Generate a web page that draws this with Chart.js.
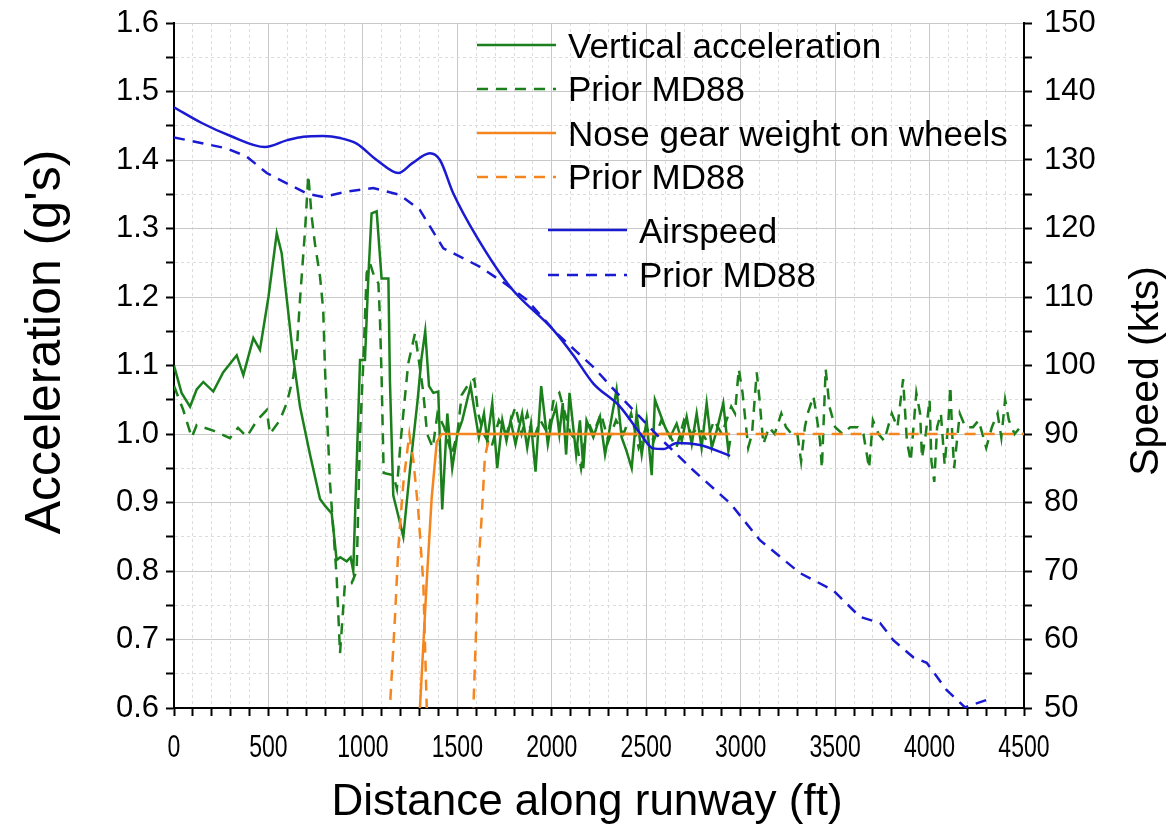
<!DOCTYPE html>
<html>
<head>
<title>Vertical acceleration and airspeed along runway</title>
<script src="https://cdn.jsdelivr.net/npm/chart.js@4.4.0/dist/chart.umd.min.js"></script>
<style>
  body { margin: 0; background: #fff; }
</style>
</head>
<body>
<canvas id="chart" width="1170" height="828"></canvas>
<script>
// values (distance in ft)
const accelDist = [0, 40, 85, 120, 155, 208, 260, 332, 367, 420, 455, 500, 544, 570, 600, 632, 667, 720, 773, 800, 835, 861, 880, 914, 935, 949, 970, 985, 1011, 1029, 1046, 1073, 1099, 1135, 1143, 1161, 1188, 1214, 1250, 1290, 1310, 1330, 1350, 1373, 1399, 1420, 1447, 1473, 1500, 1526, 1570, 1614, 1641, 1658, 1685, 1711, 1738, 1760, 1782, 1808, 1843, 1870, 1890, 1914, 1944, 1979, 2000, 2023, 2040, 2058, 2076, 2094, 2129, 2149, 2167, 2184, 2220, 2255, 2282, 2308, 2343, 2370, 2396, 2423, 2449, 2476, 2502, 2529, 2546, 2573, 2600, 2626, 2661, 2688, 2714, 2741, 2767, 2793, 2820, 2847, 2873, 2908, 2935, 2944];
const accelVal = [1.10, 1.06, 1.04, 1.065, 1.076, 1.062, 1.09, 1.115, 1.086, 1.14, 1.123, 1.20, 1.293, 1.264, 1.19, 1.11, 1.04, 0.97, 0.905, 0.895, 0.884, 0.816, 0.82, 0.814, 0.82, 0.80, 0.98, 1.108, 1.108, 1.23, 1.322, 1.325, 1.227, 1.227, 1.079, 0.91, 0.88, 0.85, 0.95, 1.05, 1.11, 1.15, 1.07, 1.06, 1.062, 0.89, 1.03, 0.95, 1.0, 1.02, 1.07, 0.995, 1.03, 0.99, 1.045, 0.95, 1.02, 0.99, 1.02, 0.985, 1.03, 0.98, 1.015, 0.945, 1.07, 0.985, 1.02, 1.04, 1.0, 1.045, 0.97, 1.06, 0.97, 1.02, 0.95, 1.02, 0.995, 1.025, 0.97, 1.01, 1.065, 0.995, 0.975, 0.95, 1.03, 0.97, 1.02, 0.94, 1.05, 1.03, 1.01, 0.995, 1.015, 0.99, 1.025, 0.985, 1.03, 0.98, 1.045, 0.98, 1.005, 1.045, 0.975, 0.99];

const priorAccelDist = [0, 49, 94, 120, 208, 296, 339, 385, 440, 491, 508, 560, 597, 632, 650, 667, 694, 711, 729, 746, 773, 790, 799, 826, 861, 879, 905, 940, 967, 985, 1002, 1020, 1038, 1060, 1082, 1090, 1099, 1110, 1161, 1180, 1200, 1240, 1276, 1300, 1320, 1340, 1370, 1395, 1430, 1470, 1500, 1523, 1567, 1590, 1610, 1640, 1680, 1720, 1760, 1808, 1840, 1870, 1900, 1940, 1980, 2010, 2040, 2070, 2100, 2130, 2155, 2190, 2220, 2260, 2300, 2340, 2380, 2420, 2460, 2500, 2540, 2580, 2620, 2660, 2700, 2740, 2780, 2820, 2860, 2900, 2950, 2970, 2990, 3010, 3040, 3060, 3085, 3100, 3120, 3150, 3180, 3215, 3240, 3270, 3300, 3320, 3340, 3355, 3385, 3400, 3420, 3430, 3450, 3470, 3500, 3540, 3580, 3620, 3650, 3680, 3700, 3730, 3760, 3800, 3830, 3860, 3880, 3900, 3930, 3950, 3960, 3980, 4000, 4010, 4025, 4040, 4060, 4080, 4100, 4110, 4120, 4130, 4160, 4190, 4230, 4260, 4300, 4330, 4360, 4380, 4400, 4420, 4450, 4480, 4500];
const priorAccelVal = [1.07, 1.035, 0.995, 1.013, 1.005, 0.994, 1.009, 0.996, 1.02, 1.035, 1.0, 1.02, 1.045, 1.084, 1.123, 1.196, 1.298, 1.378, 1.317, 1.278, 1.23, 1.181, 1.098, 0.928, 0.792, 0.68, 0.782, 0.782, 0.80, 1.0, 1.103, 1.235, 1.249, 1.23, 1.22, 1.171, 1.084, 0.943, 0.94, 0.92, 0.99, 1.103, 1.147, 1.10, 1.06, 1.0, 0.98, 1.03, 1.01, 0.97, 1.0, 1.057, 1.076, 1.08, 1.03, 1.0, 0.98, 1.02, 1.0, 1.04, 1.0, 1.03, 0.99, 1.02, 1.0, 1.05, 1.06, 1.03, 1.0, 0.99, 0.95, 1.02, 1.0, 1.03, 0.99, 1.02, 1.0, 1.03, 0.98, 1.01, 0.99, 1.02, 1.0, 0.98, 1.02, 1.0, 1.01, 0.99, 1.02, 1.0, 1.04, 1.03, 1.095, 1.06, 0.98, 1.0, 1.09, 1.05, 0.985, 1.01, 1.0, 1.03, 1.01, 1.0, 1.0, 0.96, 1.01, 1.03, 1.055, 1.03, 0.99, 0.95, 1.095, 1.04, 1.01, 1.0, 1.01, 1.01, 1.0, 0.95, 1.02, 1.0, 0.99, 1.03, 1.01, 1.08, 0.99, 0.96, 1.06, 1.03, 0.965, 1.0, 1.05, 0.96, 0.93, 1.01, 1.03, 0.955, 1.02, 1.07, 1.0, 0.95, 1.03, 1.01, 1.01, 1.02, 0.98, 1.01, 1.03, 0.995, 1.05, 1.02, 1.0, 1.01, 1.0];

const gearDist = [0, 1280, 1302, 1338, 1364, 1391, 1417, 2944];
const gearVal = [0, 0, 0.6, 0.785, 0.906, 0.988, 1.0, 1.0];

const priorGearDist = [0, 1100, 1143, 1170, 1188, 1214, 1246, 1267, 1293, 1320, 1338, 1380, 1560, 1585, 1611, 1629, 1646, 1673, 4500];
const priorGearVal = [0, 0, 0.6, 0.733, 0.835, 0.928, 1.0, 0.962, 0.889, 0.782, 0.6, 0, 0, 0.6, 0.806, 0.879, 0.967, 1.0, 1.0];

// airspeed in kts
const speedDist = [0, 147, 300, 482, 600, 685, 790, 880, 967, 1073, 1188, 1260, 1355, 1408, 1479, 1602, 1779, 2008, 2114, 2219, 2361, 2467, 2537, 2590, 2663, 2785, 2944];
const speedVal = [137.7, 135.4, 133.5, 131.9, 132.9, 133.4, 133.5, 133.2, 132.4, 130.0, 128.1, 129.5, 131.0, 130.0, 125.1, 118.8, 111.5, 105.2, 101.5, 97.4, 94.0, 90.1, 87.9, 87.8, 88.7, 88.4, 86.8];

const priorSpeedDist = [0, 279, 385, 491, 703, 790, 914, 1055, 1196, 1302, 1426, 1514, 1620, 1761, 1867, 2026, 2132, 2219, 2345, 2573, 2749, 2944, 3102, 3314, 3489, 3632, 3738, 3808, 3914, 3985, 4091, 4188, 4304];
const priorSpeedVal = [133.3, 131.7, 130.5, 128.1, 125.1, 124.6, 125.4, 125.9, 124.9, 122.7, 117.1, 115.9, 114.4, 111.8, 109.6, 104.7, 102.0, 99.8, 96.0, 89.4, 84.7, 79.9, 74.5, 69.7, 67.2, 63.3, 62.4, 59.9, 57.4, 56.6, 52.6, 50.1, 51.2];

const xTicks = [0, 500, 1000, 1500, 2000, 2500, 3000, 3500, 4000, 4500];

const GREEN = '#1b801b';
const ORANGE = '#f5861f';
const BLUE = '#1a1ad2';
const DASH = [11, 8];
const FONT = '"Liberation Sans", Arial, sans-serif';

function pts(xs, ys) {
  return xs.map((x, i) => ({ x: x, y: ys[i] }));
}

function isMajor(v, step) {
  return Math.abs(v / step - Math.round(v / step)) < 1e-6;
}

// fixed axis box, no extra padding for edge labels
function fixBox(w, h) {
  return s => {
    if (w) s.width = w;
    if (h) s.height = h;
    s.paddingTop = 0; s.paddingBottom = 0;
    s.paddingLeft = 0; s.paddingRight = 0;
  };
}

// legend in two blocks inside the plot, axis titles and narrow x labels
const decorations = {
  id: 'decorations',
  afterDraw(chart) {
    const ctx = chart.ctx;
    const ds = chart.data.datasets;
    const rows = [
      { i: 0, x1: 477, x2: 556, tx: 568, ly: 45, ty: 58 },
      { i: 1, x1: 477, x2: 556, tx: 568, ly: 89, ty: 101 },
      { i: 2, x1: 477, x2: 556, tx: 568, ly: 133, ty: 146 },
      { i: 3, x1: 477, x2: 556, tx: 568, ly: 177, ty: 189 },
      { i: 4, x1: 548, x2: 627, tx: 639, ly: 230, ty: 243 },
      { i: 5, x1: 548, x2: 627, tx: 639, ly: 275, ty: 287 }
    ];
    ctx.save();
    ctx.fillStyle = '#000';
    ctx.textBaseline = 'alphabetic';
    ctx.font = '35px ' + FONT;
    rows.forEach(r => {
      const d = ds[r.i];
      ctx.strokeStyle = d.borderColor;
      ctx.lineWidth = d.borderWidth;
      ctx.setLineDash(d.borderDash || []);
      ctx.beginPath();
      ctx.moveTo(r.x1, r.ly);
      ctx.lineTo(r.x2, r.ly);
      ctx.stroke();
      ctx.setLineDash([]);
      ctx.fillText(d.label, r.tx, r.ty);
    });

    // x tick labels, condensed like the original
    const xs = chart.scales.x;
    ctx.font = '32px ' + FONT;
    ctx.textAlign = 'center';
    xTicks.forEach(v => {
      ctx.save();
      ctx.translate(xs.getPixelForValue(v), 757);
      ctx.scale(0.72, 1);
      ctx.fillText(String(v), 0, 0);
      ctx.restore();
    });

    // axis titles
    ctx.font = '44px ' + FONT;
    ctx.fillText('Distance along runway (ft)', 587, 815);

    ctx.font = '50px ' + FONT;
    ctx.save();
    ctx.translate(60, 342);
    ctx.rotate(-Math.PI / 2);
    ctx.fillText("Acceleration (g's)", 0, 0);
    ctx.restore();

    ctx.font = '41px ' + FONT;
    ctx.save();
    ctx.translate(1158, 371);
    ctx.rotate(-Math.PI / 2);
    ctx.fillText('Speed (kts)', 0, 0);
    ctx.restore();
    ctx.restore();
  }
};

Chart.defaults.font.family = FONT;
Chart.defaults.color = '#000';

const ctx = document.getElementById('chart').getContext('2d');
new Chart(ctx, {
  type: 'line',
  data: {
    datasets: [
      { label: 'Vertical acceleration', data: pts(accelDist, accelVal), yAxisID: 'y',
        borderColor: GREEN, borderWidth: 2.5, order: 3 },
      { label: 'Prior MD88', data: pts(priorAccelDist, priorAccelVal), yAxisID: 'y',
        borderColor: GREEN, borderWidth: 2.5, borderDash: DASH, order: 4 },
      { label: 'Nose gear weight on wheels', data: pts(gearDist, gearVal), yAxisID: 'y',
        borderColor: ORANGE, borderWidth: 2.5, order: 1 },
      { label: 'Prior MD88', data: pts(priorGearDist, priorGearVal), yAxisID: 'y',
        borderColor: ORANGE, borderWidth: 2.5, borderDash: DASH, order: 2 },
      { label: 'Airspeed', data: pts(speedDist, speedVal), yAxisID: 'y1',
        borderColor: BLUE, borderWidth: 2.5, cubicInterpolationMode: 'monotone', order: 0 },
      { label: 'Prior MD88', data: pts(priorSpeedDist, priorSpeedVal), yAxisID: 'y1',
        borderColor: BLUE, borderWidth: 2.5, borderDash: DASH, order: 0 }
    ]
  },
  options: {
    responsive: false,
    animation: false,
    events: [],
    elements: { point: { radius: 0 }, line: { tension: 0, fill: false } },
    layout: { padding: { top: 23, left: 0, right: 0, bottom: 0 } },
    plugins: { legend: { display: false }, tooltip: { enabled: false } },
    scales: {
      x: {
        type: 'linear', min: 0, max: 4500,
        afterFit: fixBox(0, 120),
        afterBuildTicks: s => {
          s.ticks = [];
          for (let v = 0; v <= 4500; v += 100) s.ticks.push({ value: v });
        },
        ticks: { autoSkip: false, maxRotation: 0, callback: () => '' },
        grid: {
          color: c => (isMajor(c.tick.value, 500) ? '#c9c9c9' : '#dcdcdc'),
          lineWidth: 1, tickColor: '#000', tickWidth: 2, tickLength: 8
        },
        border: {
          display: true, color: '#000', width: 2,
          dash: c => (isMajor(c.tick.value, 500) ? [] : [3, 3])
        }
      },
      y: {
        position: 'left', min: 0.6, max: 1.6,
        afterFit: fixBox(174, 0),
        ticks: {
          stepSize: 0.05, padding: 7, autoSkip: false,
          font: { size: 31 },
          callback: v => (isMajor(v, 0.1) ? v.toFixed(1) : '')
        },
        grid: {
          color: c => (isMajor(c.tick.value, 0.1) ? '#c9c9c9' : '#dcdcdc'),
          lineWidth: 1, tickColor: '#000', tickWidth: 2, tickLength: 8
        },
        border: {
          display: true, color: '#000', width: 2,
          dash: c => (isMajor(c.tick.value, 0.1) ? [] : [3, 3])
        }
      },
      y1: {
        position: 'right', min: 50, max: 150,
        afterFit: fixBox(146, 0),
        ticks: {
          stepSize: 5, padding: 12, autoSkip: false,
          font: { size: 31 },
          callback: v => (isMajor(v, 10) ? String(v) : '')
        },
        grid: {
          drawOnChartArea: false,
          tickColor: '#000', tickWidth: 2, tickLength: 8
        },
        border: { display: true, color: '#000', width: 2 }
      }
    }
  },
  plugins: [decorations]
});
</script>
</body>
</html>
